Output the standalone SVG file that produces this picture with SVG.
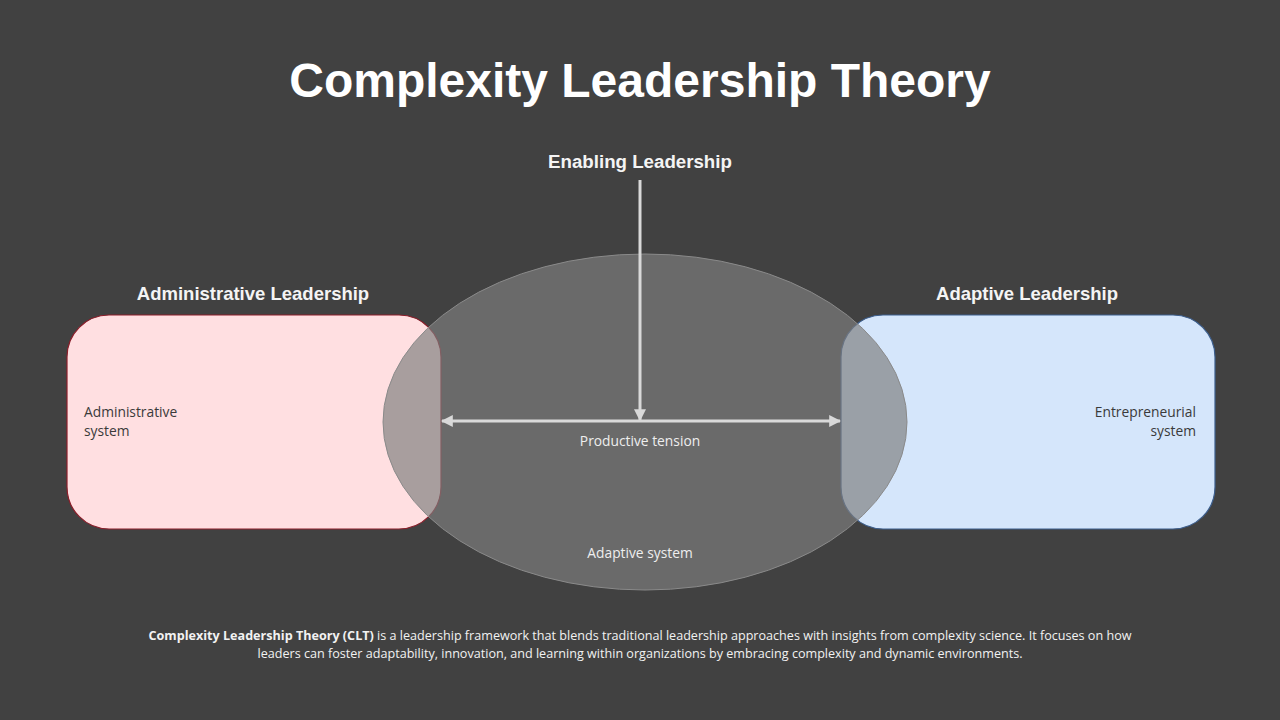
<svg xmlns="http://www.w3.org/2000/svg" width="1280" height="720" viewBox="0 0 1280 720">
<defs>
<style>
.h{font-family:"Liberation Sans",Arial,sans-serif;font-weight:bold;fill:#f4f4f4}
.s{font-family:"Open Sans","Liberation Sans",sans-serif;font-size:13.8px}
.f{font-family:"Open Sans","Liberation Sans",sans-serif;font-size:12.6px;fill:#f2f2f2}
.ar{stroke:#d9d9d9;stroke-width:3;fill:none}
</style>
<marker id="ah" viewBox="0 0 10 10" refX="9" refY="5" markerWidth="4" markerHeight="4" orient="auto-start-reverse" markerUnits="strokeWidth">
<path d="M0,0 L10,5 L0,10 z" fill="#d9d9d9"/>
</marker>
</defs>
<rect width="1280" height="720" fill="#414141"/>
<text class="h" x="640" y="97" font-size="48" fill="#ffffff" style="fill:#ffffff" text-anchor="middle">Complexity Leadership Theory</text>
<g id="admin">
<rect x="67" y="315" width="374" height="214" rx="42" fill="#ffdfe1" stroke="#8b1e2a" stroke-width="1.2"/>
<text class="h" x="253" y="300" font-size="18.5" text-anchor="middle">Administrative Leadership</text>
<text class="s" x="84" y="417" fill="#3a3a3a">Administrative</text>
<text class="s" x="84" y="436" fill="#3a3a3a">system</text>
</g>
<g id="adaptive">
<rect x="841" y="315" width="374" height="214" rx="42" fill="#d5e6fb" stroke="#3d5f8e" stroke-width="1.2"/>
<text class="h" x="1027" y="300" font-size="18.5" text-anchor="middle">Adaptive Leadership</text>
<text class="s" x="1196" y="417" fill="#3a3a3a" text-anchor="end">Entrepreneurial</text>
<text class="s" x="1196" y="436" fill="#3a3a3a" text-anchor="end">system</text>
</g>
<g id="system">
<ellipse cx="645" cy="422" rx="262" ry="168" fill="#7e7e7e" fill-opacity="0.675" stroke="#8a8a8a" stroke-width="1"/>
<text class="s" x="640" y="446" fill="#eeeeee" text-anchor="middle">Productive tension</text>
<text class="s" x="640" y="558" fill="#eeeeee" text-anchor="middle">Adaptive system</text>
</g>
<g id="enabling">
<text class="h" x="640" y="168" font-size="18.7" text-anchor="middle">Enabling Leadership</text>
</g>
<g id="connectors">
<line class="ar" x1="640" y1="180" x2="640" y2="420" marker-end="url(#ah)"/>
<line class="ar" x1="442" y1="421" x2="840" y2="421" marker-start="url(#ah)" marker-end="url(#ah)"/>
</g>
<g id="footer">
<text class="f" x="640" y="640" text-anchor="middle"><tspan font-weight="bold">Complexity Leadership Theory (CLT)</tspan> is a leadership framework that blends traditional leadership approaches with insights from complexity science. It focuses on how</text>
<text class="f" x="640" y="658" text-anchor="middle">leaders can foster adaptability, innovation, and learning within organizations by embracing complexity and dynamic environments.</text>
</g>
</svg>
